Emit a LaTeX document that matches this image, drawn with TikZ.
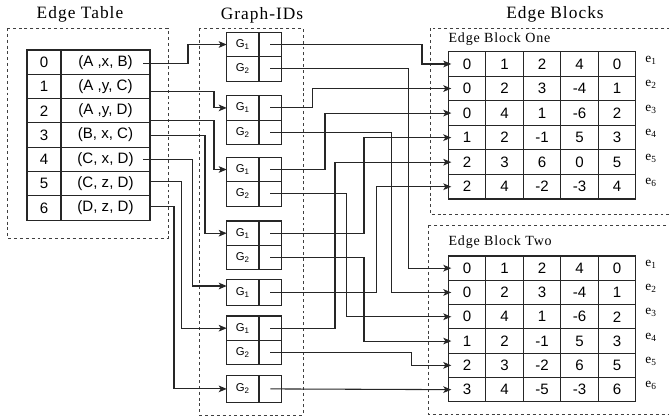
\documentclass[tikz,border=0pt]{standalone}
\usepackage{fontspec}
\setmainfont{Liberation Serif}
\setsansfont{Liberation Sans}
\newfontfamily\ttlfont[LetterSpace=6]{Liberation Serif}
\usetikzlibrary{arrows.meta,calc}
\begin{document}
\begin{tikzpicture}[x=0.75pt,y=-0.75pt,
  ttl/.style={font=\ttlfont\fontsize{13}{15}\selectfont, inner sep=0},
  subttl/.style={font=\ttlfont\fontsize{10.5}{12}\selectfont, inner sep=0, anchor=west},
  frame/.style={draw=black!75, line width=0.7pt, dash pattern=on 2.2pt off 2.2pt},
  cell/.style={draw=black!85, line width=0.85pt, inner sep=0, outer sep=0,
    font=\sffamily\fontsize{11.3}{13}\selectfont},
  gcell/.style={draw=black!85, line width=0.85pt, inner sep=0, outer sep=0,
    anchor=north west, font=\sffamily\fontsize{8.5}{10}\selectfont},
  elabel/.style={font=\fontsize{10}{12}\selectfont, inner sep=0},
  conn/.style={draw=black!85, line width=0.8pt},
  arr/.style={conn, -{Stealth[length=6pt,width=5pt,inset=1.5pt]}}]
\path[use as bounding box] (0,0) rectangle (669,419);
\clip (0,0) rectangle (669,419);

% frames and titles
\draw[frame] (7,28) rectangle (168,238);
\draw[frame] (199,28) rectangle (303,415);
\draw[frame] (430,28.3) rectangle (675,214.3);
\draw[frame] (428.3,225) rectangle (675,414);
\node[ttl] (ttlA) at (80,14) {Edge Table};
\node[ttl] (ttlB) at (262,15) {Graph-IDs};
\node[ttl] (ttlC) at (555,14) {Edge Blocks};
\node[subttl] (ttlD) at (448.3,39.3) {Edge Block One};
\node[subttl] (ttlE) at (448.3,241.7) {Edge Block Two};

% edge table
\foreach \i/\t in {0/{(A ,x, B)},1/{(A ,y, C)},2/{(A ,y, D)},3/{(B, x, C)},4/{(C, x, D)},5/{(C, z, D)},6/{(D, z, D)}} {
  \node[cell, minimum width=25.5pt, minimum height=18.225pt] (n\i) at (44, {62.15+24.3*\i}) {\i};
  \node[cell, minimum width=66.75pt, minimum height=18.225pt] (t\i) at (105.5, {62.15+24.3*\i}) {\t};
}

% graph-id boxes (double)
\foreach \n/\y in {A/32.3,B/95.7,C/157.3,D/221,F/316} {
  \node[gcell, minimum width=24.2pt, minimum height=18.3pt] (g\n1) at (226.7,\y) {G\textsubscript{1}};
  \node[gcell, minimum width=17pt, minimum height=18.3pt] (r\n1) at (259,\y) {};
  \node[gcell, minimum width=24.2pt, minimum height=18.3pt] (g\n2) at (226.7,{\y+24.4}) {G\textsubscript{2}};
  \node[gcell, minimum width=17pt, minimum height=18.3pt] (r\n2) at (259,{\y+24.4}) {};
}
% single boxes
\node[gcell, minimum width=24.2pt, minimum height=19.8pt] (gE1) at (226.7,279.3) {G\textsubscript{1}};
\node[gcell, minimum width=17pt, minimum height=19.8pt] (rE1) at (259,279.3) {};
\node[gcell, minimum width=24.2pt, minimum height=19.8pt] (gG2) at (226.7,375.7) {G\textsubscript{2}};
\node[gcell, minimum width=17pt, minimum height=19.8pt] (rG2) at (259,375.7) {};

% edge blocks
\foreach \b/\top/\rh/\data in {
  1/51.7/24.55/{{0,1,2,4,0},{0,2,3,-4,1},{0,4,1,-6,2},{1,2,-1,5,3},{2,3,6,0,5},{2,4,-2,-3,4}},
  2/256/24.3/{{0,1,2,4,0},{0,2,3,-4,1},{0,4,1,-6,2},{1,2,-1,5,3},{2,3,-2,6,5},{3,4,-5,-3,6}}} {
  \foreach \row [count=\r] in \data {
    \foreach \v [count=\c] in \row {
      \node[cell, minimum width=28.125pt, minimum height={\rh*0.75pt}] (b\b-\r-\c)
        at ({448.3+37.5*(\c-0.5)}, {\top+\rh*(\r-0.5)}) {\v};
    }
    \node[elabel] (e\b-\r) at (651, {\top+\rh*(\r-0.5)-4}) {e\textsubscript{\r}};
  }
}

% edge table -> graph ids
\draw[arr] ($(t0.east)+(-7,1.2)$) -- ++(45,0) |- (gA1.west);
\draw[arr] ($(t1.east)+(0,5.2)$) -- ++(64,0) |- (gB1.west);
\draw[arr] ($(t2.east)+(0,9.9)$) -- ++(64,0) |- (gC1.west);
\draw[arr] (t3.east) -- ++(55,0) |- (gD1.west);
\draw[arr] ($(t4.east)+(-7,0)$) -- ++(49.7,0) |- ($(gE1.west)+(0,-6.5)$);
\draw[arr] ($(t5.east)+(0,-2)$) -- ++(31.7,0) |- (gF1.west);
\draw[arr] ($(t6.east)+(0,-1.3)$) -- ++(24,0) |- (gG2.west);

% graph ids -> edge blocks
\draw[arr] (rA1.center) -| ($(b1-1-1.west)+(-26.3,0)$) -- ($(b1-1-1.west)+(3,0)$);
\draw[arr] (rA2.center) -| ($(b2-1-1.west)+(-40,0)$) -- ($(b2-1-1.west)+(3,0)$);
\draw[arr] (rB1.center) -| ($(b1-2-1.west)+(-136,0)$) -- ($(b1-2-1.west)+(3,0)$);
\draw[arr] (rB2.center) -| ($(b2-2-1.west)+(-56.6,0)$) -- ($(b2-2-1.west)+(3,0)$);
\draw[arr] (rC1.center) -| ($(b1-3-1.west)+(-123.3,0)$) -- ($(b1-3-1.west)+(3,0)$);
\draw[arr] (rC2.center) -| ($(b2-3-1.west)+(-101.6,0)$) -- ($(b2-3-1.west)+(3,0)$);
\draw[arr] (rD1.center) -| ($(b1-4-1.west)+(-84.3,0)$) -- ($(b1-4-1.west)+(3,0)$);
\draw[arr] (rD2.center) -| ($(b2-4-1.west)+(-84.3,0)$) -- ($(b2-4-1.west)+(3,0)$);
\draw[arr] (rE1.center) -| ($(b1-6-1.west)+(-71.6,0)$) -- ($(b1-6-1.west)+(3,0)$);
\draw[arr] (rF1.center) -| ($(b1-5-1.west)+(-113.3,0)$) -- ($(b1-5-1.west)+(3,0)$);
\draw[arr] (rF2.center) -| ($(b2-5-1.west)+(-36.6,0)$) -- ($(b2-5-1.west)+(3,0)$);
\draw[arr] (rG2.center) -- ($(b2-6-1.west)+(3,0)$);
\end{tikzpicture}
\end{document}
